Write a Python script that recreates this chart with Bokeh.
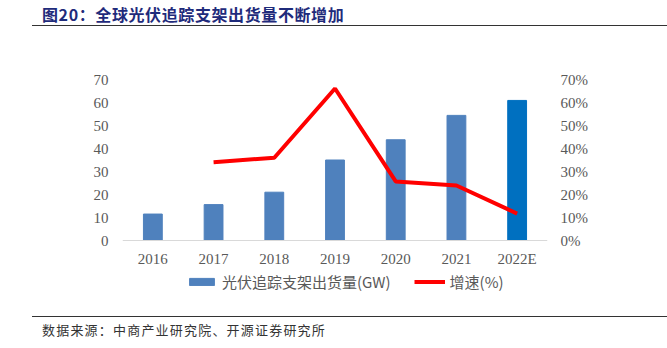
from bokeh.plotting import figure
from bokeh.models import (Range1d, LinearAxis, FixedTicker, NumeralTickFormatter,
                          Legend, LegendItem, ColumnDataSource, Div)
from bokeh.layouts import column
from bokeh.embed import file_html
from bokeh.resources import INLINE

years = ["2016", "2017", "2018", "2019", "2020", "2021", "2022E"]
shipments = [11.5, 15.6, 21.0, 35.0, 43.8, 54.4, 60.9]
growth_years = ["2017", "2018", "2019", "2020", "2021", "2022E"]
growth = [0.34, 0.36, 0.661, 0.257, 0.239, 0.117]
bar_colors = ["#4F81BD"] * 6 + ["#0070C0"]
left_ticks = [0, 10, 20, 30, 40, 50, 60, 70]
right_ticks = [0, 0.1, 0.2, 0.3, 0.4, 0.5, 0.6, 0.7]

title_text = "图20：全球光伏追踪支架出货量不断增加"
source_text = "数据来源：中商产业研究院、开源证券研究所"
bar_label = "光伏追踪支架出货量(GW)"
line_label = "增速(%)"

W = 667
title_div = Div(
    text=(f'<div style="margin-left:32px;width:635px;height:26px;'
          f'border-bottom:1.5px solid #333;box-sizing:border-box;padding-left:10px;'
          f'font:bold 16px \'Noto Sans CJK SC\';color:#1F2B7B;line-height:28px;'
          f'letter-spacing:0.6px;white-space:nowrap">{title_text}</div>'),
    width=W, height=28, margin=0)

# frame spans from the top of the value area down to the legend row;
# the value axis 0..70 occupies the upper 161 px of the 216 px frame
span_frac = 216 / 161
p = figure(x_range=years, y_range=Range1d(70 - 70 * span_frac, 70),
           width=W, height=280,
           output_backend="svg", toolbar_location=None,
           min_border_left=122, min_border_right=120,
           min_border_top=51, min_border_bottom=13, margin=0)
p.outline_line_color = None
p.xgrid.visible = False
p.ygrid.visible = False
p.extra_y_ranges = {"pct": Range1d(0.7 - 0.7 * span_frac, 0.7)}

src = ColumnDataSource(dict(x=years, top=shipments, color=bar_colors))
bars = p.vbar(x="x", top="top", bottom=0, width=0.31, color="color", source=src)
line = p.line(x=growth_years, y=growth, y_range_name="pct",
              line_color="#FF0000", line_width=4)

serif = "Liberation Serif"
tick_color = "#595959"

ax = p.yaxis[0]
ax.ticker = FixedTicker(ticks=left_ticks)
ax.axis_line_color = None
ax.major_tick_line_color = None
ax.minor_tick_line_color = None
ax.major_label_text_font = serif
ax.major_label_text_font_size = "15px"
ax.major_label_text_color = tick_color
ax.major_label_standoff = 8

rax = LinearAxis(y_range_name="pct",
                 ticker=FixedTicker(ticks=right_ticks),
                 formatter=NumeralTickFormatter(format="0%"))
rax.axis_line_color = None
rax.major_tick_line_color = None
rax.minor_tick_line_color = None
rax.major_label_text_font = serif
rax.major_label_text_font_size = "15px"
rax.major_label_text_color = tick_color
rax.major_label_standoff = 7
p.add_layout(rax, "right")

xa = p.xaxis[0]
xa.fixed_location = 0
xa.axis_line_color = "#D9D9D9"
xa.major_tick_line_color = None
xa.minor_tick_line_color = None
xa.major_label_text_font = serif
xa.major_label_text_font_size = "15px"
xa.major_label_text_color = tick_color
xa.major_label_standoff = 4

legend = Legend(items=[LegendItem(label=bar_label, renderers=[bars]),
                       LegendItem(label=line_label, renderers=[line])],
                orientation="horizontal", location=(64, 3),
                label_text_font="Noto Sans CJK SC", label_text_font_size="15px",
                label_text_color=tick_color, glyph_width=31, glyph_height=9,
                spacing=23, border_line_color=None, background_fill_alpha=0,
                margin=0, padding=2, label_standoff=5)
p.add_layout(legend, "center")

source_div = Div(
    text=(f'<div style="margin-left:32px;margin-top:8px;width:635px;height:32px;'
          f'border-top:1.5px solid #333;box-sizing:border-box;padding-left:10px;'
          f'padding-top:3px;font:13px \'Noto Sans CJK SC\';color:#333333;'
          f'letter-spacing:1.2px;line-height:20px;white-space:nowrap">{source_text}</div>'),
    width=W, height=40, margin=0)

layout = column(title_div, p, source_div, spacing=0, margin=0)
open("out.html", "w").write(file_html(layout, INLINE))
